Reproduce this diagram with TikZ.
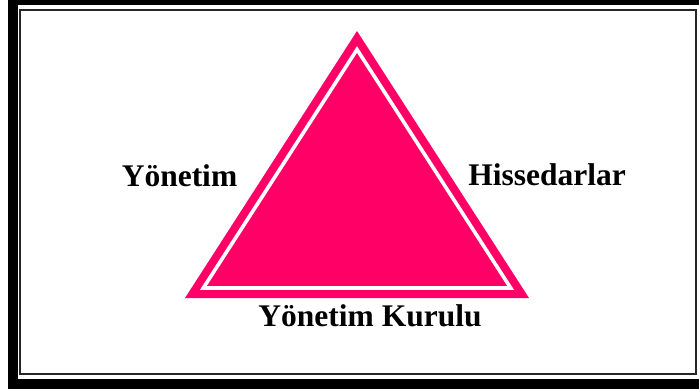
\documentclass[tikz,border=0pt]{standalone}
\usepackage{fontspec}
\setmainfont{Liberation Serif}
\definecolor{tripink}{RGB}{255,0,102}
\begin{document}
\begin{tikzpicture}[x=1pt,y=-1pt,
  lbl/.style={font=\bfseries\fontsize{31.5}{36}\selectfont, anchor=base, inner sep=0pt}]
\useasboundingbox (0,0) rectangle (699,389);
\clip (0,0) rectangle (699,389);
% frame
\draw[line width=10pt, black] (12.5,0) rectangle (704,383.5);
\draw[line width=2.4pt, black!85] (20,10) rectangle (696,374);
% triangle
\fill[tripink] (185,298) -- (529,298) -- (357,31) -- cycle;
\draw[white, line width=3.6pt, line join=miter] (203.3,288) -- (510.7,288) -- (357,49.5) -- cycle;
% labels
\node[lbl] (yon) at (179.5,186) {Yönetim};
\node[lbl] (his) at (547,185) {Hissedarlar};
\node[lbl] (kur) at (370,326) {Yönetim Kurulu};
\end{tikzpicture}
\end{document}
